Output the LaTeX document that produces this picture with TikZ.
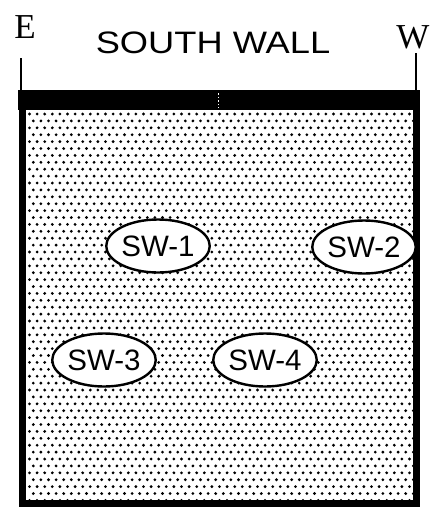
\documentclass[tikz,border=0pt]{standalone}
\usepackage{fontspec}
\newfontfamily\arialf{Liberation Sans}
\newfontfamily\seriff{Liberation Serif}
\usetikzlibrary{shapes.geometric}
\tikzset{
  spot/.style={ellipse,draw=black,line width=2.4pt,fill=white,inner sep=0pt,
    minimum height=53pt,font=\arialf\fontsize{29.5}{31}\selectfont},
  dirlabel/.style={font=\seriff\fontsize{35}{37}\selectfont,inner sep=0pt},
  wallline/.style={line width=1.3pt}
}
\begin{document}
\begin{tikzpicture}[x=1pt,y=-1pt]
\useasboundingbox (0,0) rectangle (437,507);
% stipple fill
\foreach \j [evaluate=\j as \off using {mod(\j,2)*3.8}] in {0,...,56}{
  \foreach \i in {0,...,50}{
    \fill (29.5+\i*7.6+\off,114+\j*6.9) circle (1.55);
  }
}
% frame
\draw[line width=7pt] (22,103) -- (22,503.5) -- (416,503.5) -- (416,103);
\fill (18,90) rectangle (420,110);
\draw[white,line width=0.8pt,dash pattern=on 1.5pt off 2pt] (218,93) -- (218,108);
% direction markers
\coordinate (etop) at (21,58);
\coordinate (ebot) at (21,90);
\coordinate (wtop) at (416,53);
\coordinate (wbot) at (416,90);
\draw[wallline] (etop) -- (ebot);
\draw[wallline] (wtop) -- (wbot);
\node[dirlabel] (E) at (25,27) {E};
\node[dirlabel] (W) at (413,37) {W};
\node[font=\arialf\fontsize{31}{33}\selectfont,inner sep=0pt] (title) at (213,43) {\scalebox{1.17}[1]{SOUTH WALL}};
% sample locations
\node[spot,minimum width=92pt] (sw1) at (158,246) {SW-1};
\node[spot,minimum width=93pt] (sw2) at (364,247) {SW-2};
\node[spot,minimum width=99pt] (sw3) at (104,360) {SW-3};
\node[spot,minimum width=88pt] (sw4) at (265,360) {SW-4};
\end{tikzpicture}
\end{document}
